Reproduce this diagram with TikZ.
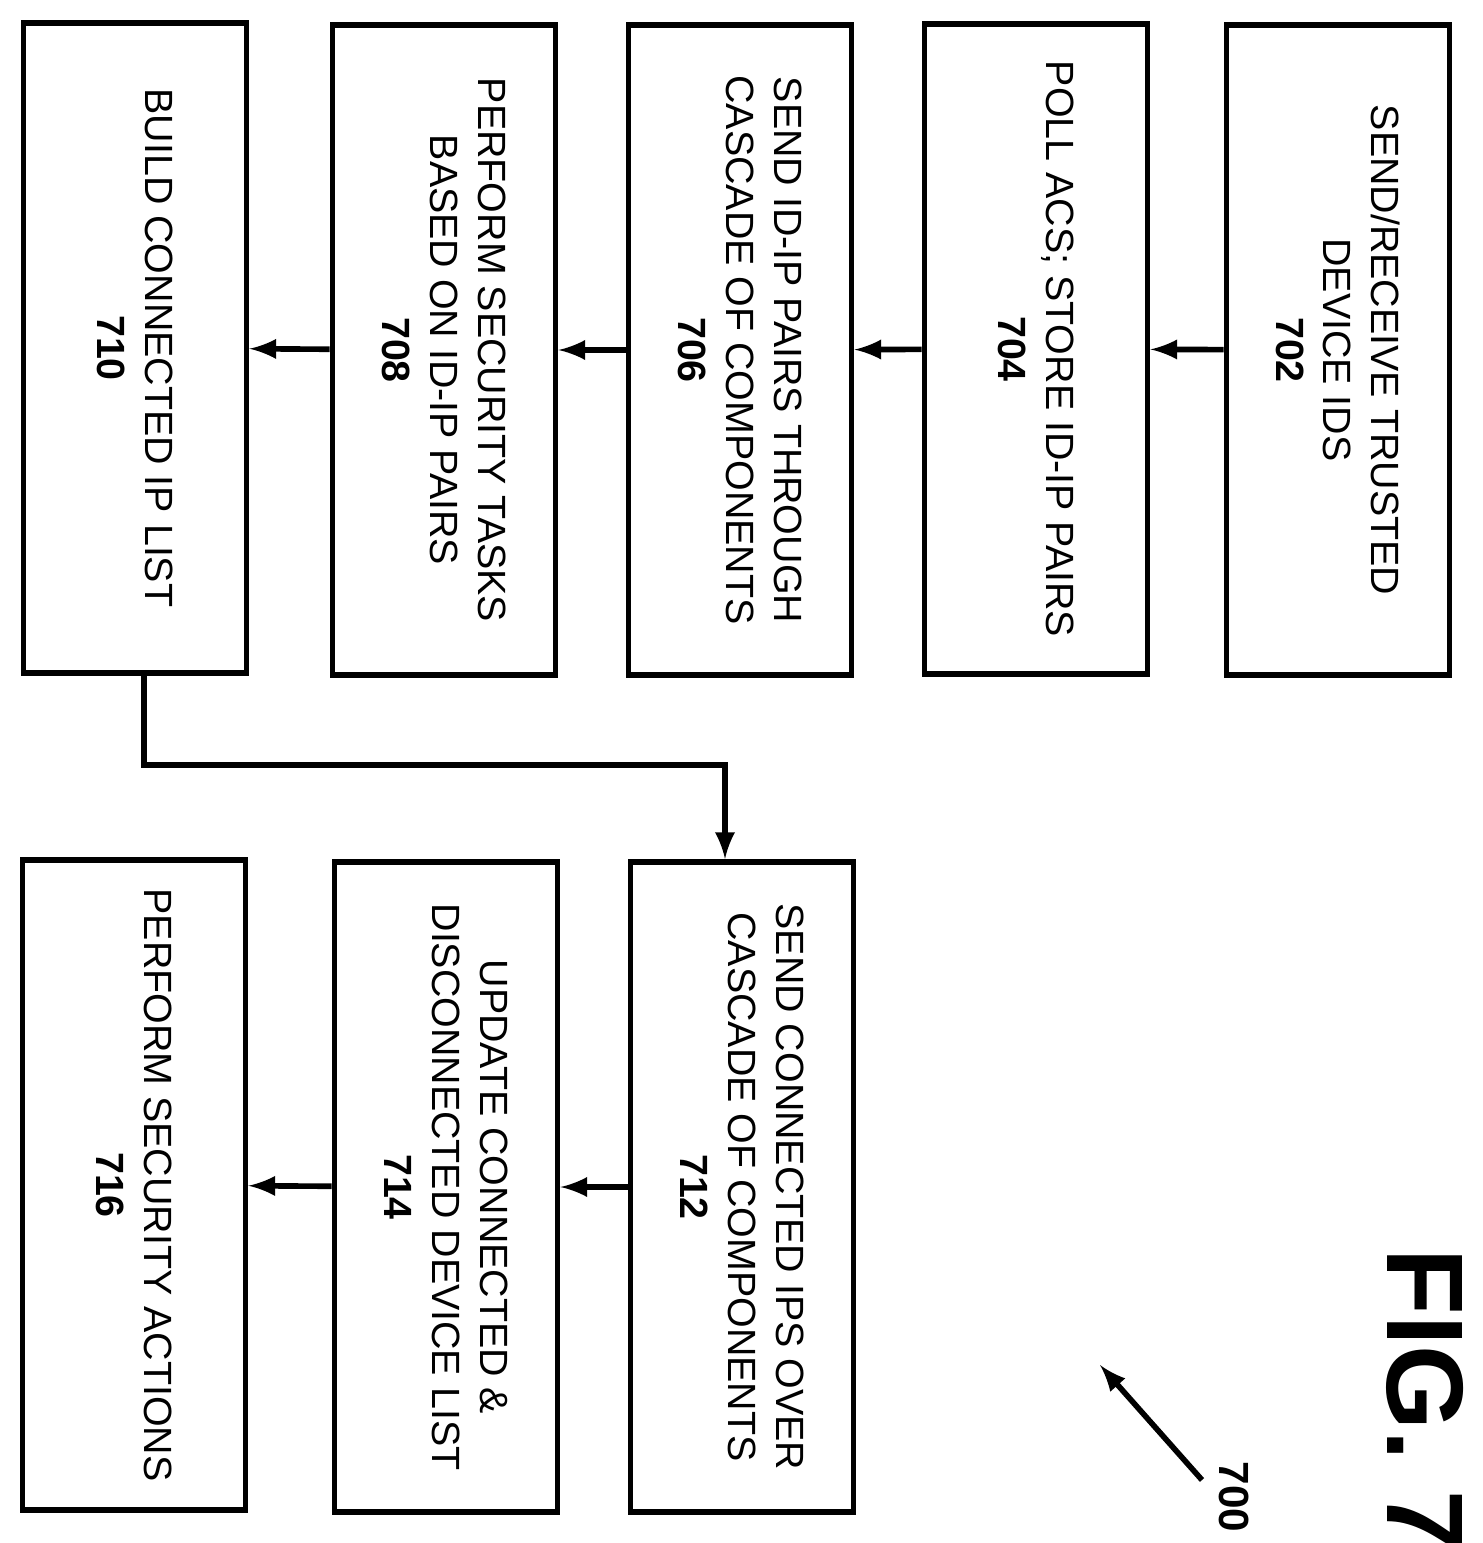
\documentclass[tikz,border=0pt]{standalone}
\usepackage{fontspec}
\setmainfont{Liberation Sans}
\usetikzlibrary{calc}
\begin{document}
\begin{tikzpicture}[x=0.01cm,y=-0.01cm,
  taskbox/.style={draw, line width=1.6pt, rotate=-90, align=center,
    minimum width=6.5cm, minimum height=2.23cm, inner sep=0pt,
    font=\fontsize{11.2}{13.6}\selectfont},
  flow/.style={->, line width=1.6pt, >=latex}]
  \useasboundingbox (0,0) rectangle (1482,1543);
  % first row
  \node[taskbox] (b702) at (1338,350) {SEND/RECEIVE TRUSTED\\DEVICE IDS\\\textbf{702}};
  \node[taskbox] (b704) at (1036,349) {POLL ACS; STORE ID-IP PAIRS\\\textbf{704}};
  \node[taskbox] (b706) at (740,350) {SEND ID-IP PAIRS THROUGH\\CASCADE OF COMPONENTS\\\textbf{706}};
  \node[taskbox] (b708) at (444,350) {PERFORM SECURITY TASKS\\BASED ON ID-IP PAIRS\\\textbf{708}};
  \node[taskbox] (b710) at (135,348) {BUILD CONNECTED IP LIST\\\textbf{710}};
  % second row
  \node[taskbox] (b712) at (742,1187) {SEND CONNECTED IPS OVER\\CASCADE OF COMPONENTS\\\textbf{712}};
  \node[taskbox] (b714) at (446,1187) {UPDATE CONNECTED \&\\DISCONNECTED DEVICE LIST\\\textbf{714}};
  \node[taskbox] (b716) at (134,1185) {PERFORM SECURITY ACTIONS\\\textbf{716}};
  \draw[flow] (b702) -- (b704);
  \draw[flow] (b704) -- (b706);
  \draw[flow] (b706) -- (b708);
  \draw[flow] (b708) -- (b710);
  \draw[flow] ($(b710.east)+(9,0)$) -- (144,765) -| ($(b712.west)+(-17,0)$);
  \draw[flow] (b712) -- (b714);
  \draw[flow] (b714) -- (b716);
  % figure label
  \node[rotate=-90, font=\fontsize{31}{34}\selectfont\bfseries] (fig) at (1425,1400) {FIG. 7};
  \node[rotate=-90, font=\fontsize{12}{14}\selectfont\bfseries] (n700) at (1234,1497) {700};
  \coordinate (tail) at (1202,1480);
  \draw[flow] (tail) -- (1100,1365);
\end{tikzpicture}
\end{document}
